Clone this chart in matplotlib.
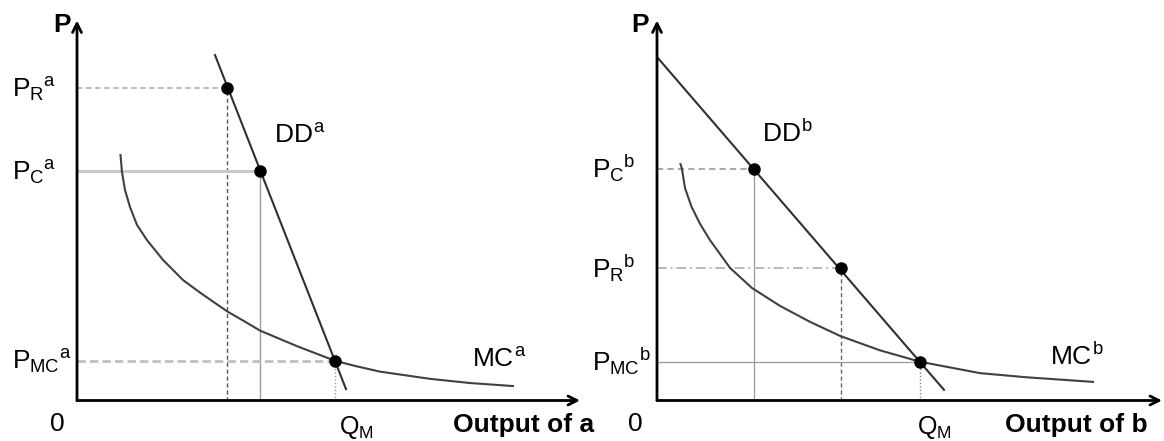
import numpy as np
import matplotlib
matplotlib.use('Agg')
import matplotlib.pyplot as plt

matplotlib.rcParams.update({'font.family': 'Liberation Sans',
                            'mathtext.fontset': 'custom',
                            'mathtext.rm': 'Liberation Sans',
                            'mathtext.it': 'Liberation Sans',
                            'mathtext.bf': 'Liberation Sans:bold'})

# ---- panel a (output in units, price in units) ----
dd_a_x = [2.76, 5.38]
dd_a_y = [9.09, 0.30]
mc_a_x = [0.87, 0.90, 0.96, 1.06, 1.20, 1.40, 1.72, 2.12, 2.46, 3.01, 3.34, 3.66,
          4.40, 5.15, 5.56, 6.06, 7.06, 7.86, 8.72]
mc_a_y = [6.46, 6.01, 5.54, 5.09, 4.62, 4.22, 3.70, 3.17, 2.84, 2.34, 2.09, 1.84,
          1.43, 1.05, 0.91, 0.76, 0.57, 0.46, 0.38]
pts_a_x = [3.01, 3.66, 5.15]          # R, C, MC
pts_a_y = [8.22, 6.03, 1.05]
labels_a = [r'$P_{R}{}^{a}$', r'$P_{C}{}^{a}$', r'$P_{MC}{}^{a}$']

# ---- panel b ----
dd_b_x = [0.0, 5.74]
dd_b_y = [9.04, 0.28]
mc_b_x = [0.47, 0.50, 0.56, 0.69, 0.86, 1.06, 1.46, 1.90, 2.46, 3.06, 3.66, 4.46,
          5.26, 6.46, 7.40, 8.72]
mc_b_y = [6.22, 6.09, 5.59, 5.10, 4.65, 4.22, 3.49, 2.96, 2.49, 2.07, 1.70, 1.32,
          1.02, 0.72, 0.61, 0.49]
pts_b_x = [1.94, 3.67, 5.26]          # C, R, MC
pts_b_y = [6.10, 3.49, 1.02]
labels_b = [r'$P_{C}{}^{b}$', r'$P_{R}{}^{b}$', r'$P_{MC}{}^{b}$']

# guide line styles for each point: (horizontal, vertical)
guides_a = [
    (dict(color='#b8b8b8', lw=1.3, ls=(0, (3, 2))), dict(color='#555555', lw=1.0, ls=(0, (3, 2)))),
    (dict(color='#c8c8c8', lw=2.2, ls='-'), dict(color='#9a9a9a', lw=1.0, ls='-')),
    (dict(color='#c0c0c0', lw=2.0, ls=(0, (3, 1.5))), dict(color='#999999', lw=1.0, ls=(0, (1, 1.5)))),
]
guides_b = [
    (dict(color='#aaaaaa', lw=1.5, ls=(0, (3, 2))), dict(color='#9a9a9a', lw=0.9, ls='-')),
    (dict(color='#b8b8b8', lw=1.4, ls=(0, (5, 2, 1, 2))), dict(color='#666666', lw=1.0, ls=(0, (3, 2)))),
    (dict(color='#999999', lw=0.9, ls='-'), dict(color='#888888', lw=1.0, ls=(0, (1, 1.5)))),
]

fig = plt.figure(figsize=(11.64, 4.41), dpi=100)
ax_a = fig.add_axes([77 / 1164, 40.5 / 441, 503 / 1164, 380 / 441])
ax_b = fig.add_axes([657 / 1164, 40.5 / 441, 505 / 1164, 380 / 441])


def draw_panel(ax, xmax, dd_x, dd_y, mc_x, mc_y, px, py, labels, guides,
               dd_lab, dd_pos, mc_lab, mc_pos, out_lab, out_x, p_x, q_x):
    ax.set_xlim(0, xmax)
    ax.set_ylim(0, 10)
    ax.axis('off')

    # guide lines
    for x, y, (hst, vst) in zip(px, py, guides):
        ax.plot([0, x], [y, y], **hst, zorder=1)
        ax.plot([x, x], [0, y], **vst, zorder=1)

    ax.plot(dd_x, dd_y, color='#303030', lw=1.5, zorder=2)
    ax.plot(mc_x, mc_y, color='#404040', lw=1.5, zorder=2,
            solid_joinstyle='round')
    ax.plot(px, py, 'o', color='black', ms=8, zorder=3)

    # axes with arrows
    arr = dict(arrowstyle='->', lw=2, color='black', shrinkA=0, shrinkB=0,
               mutation_scale=16)
    ax.annotate('', xy=(xmax, 0), xytext=(0, 0), arrowprops=arr, annotation_clip=False)
    ax.annotate('', xy=(0, 10), xytext=(0, 0), arrowprops=arr, annotation_clip=False)

    for lab, y in zip(labels, py):
        ax.text(-1.3, y - 0.25, lab, fontsize=19, ha='left', va='baseline',
                clip_on=False)

    ax.text(dd_pos[0], dd_pos[1], dd_lab, fontsize=19, ha='left', va='baseline')
    ax.text(mc_pos[0], mc_pos[1], mc_lab, fontsize=19, ha='left', va='baseline')
    ax.text(p_x, 9.88, 'P', fontsize=19, fontweight='bold', ha='center',
            va='center', clip_on=False)
    ax.text(p_x - 0.1, -0.62, '0', fontsize=19, ha='center', va='center',
            clip_on=False)
    ax.text(q_x, -0.70, r'$Q_{M}$', fontsize=18, ha='left', va='center',
            clip_on=False)
    ax.text(out_x, -0.64, out_lab, fontsize=19, fontweight='bold', ha='left',
            va='center', clip_on=False)


draw_panel(ax_a, 10.06, dd_a_x, dd_a_y, mc_a_x, mc_a_y, pts_a_x, pts_a_y,
           labels_a, guides_a, r'$DD^{a}$', (3.94, 6.78), r'$MC^{a}$', (7.9, 0.88),
           'Output of a', 7.52, -0.29, 5.24)
draw_panel(ax_b, 10.1, dd_b_x, dd_b_y, mc_b_x, mc_b_y, pts_b_x, pts_b_y,
           labels_b, guides_b, r'$DD^{b}$', (2.1, 6.80), r'$MC^{b}$', (7.86, 0.93),
           'Output of b', 6.96, -0.33, 5.2)

fig.savefig('out.png', dpi=100)
